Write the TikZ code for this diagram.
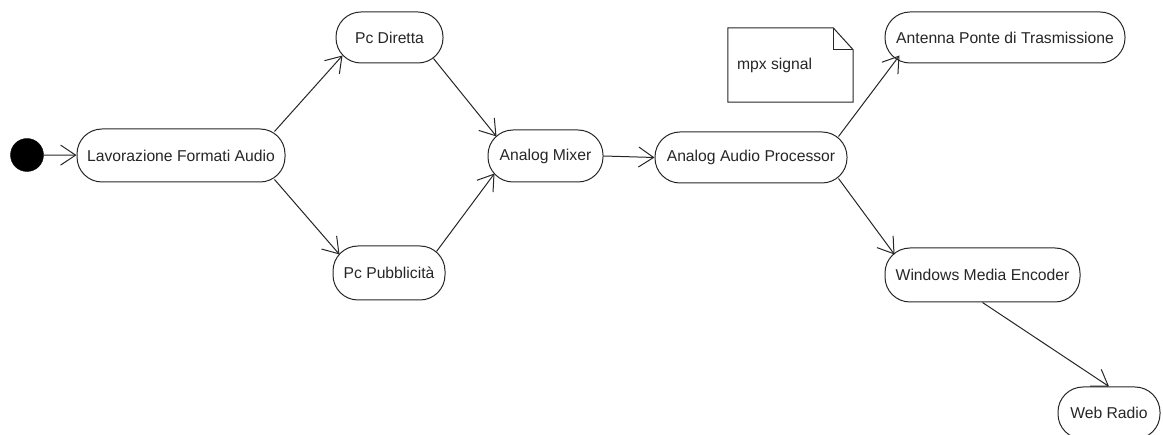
\documentclass[tikz,border=0pt]{standalone}
\usepackage{fontspec}
\setmainfont{Liberation Sans}
\usetikzlibrary{arrows.meta}

\tikzset{
  state/.style={draw=black!85, line width=1pt, rectangle, rounded corners=25pt,
    inner sep=0pt, font=\fontsize{15.7}{18}\selectfont, text=black!85},
  flow/.style={draw=black!85, line width=1pt,
    -{Straight Barb[length=15pt,width=20pt,line width=1pt]}},
  initial/.style={circle, fill=black, draw=black, inner sep=0pt, minimum size=33pt},
}

\begin{document}
\begin{tikzpicture}[x=1pt, y=-1pt]
  \useasboundingbox (0,0) rectangle (1163,435);

  % initial state
  \node[initial] (start) at (27,155) {};

  % activities
  \node[state, minimum width=208pt, minimum height=53pt] (lav) at (181,155.5) {Lavorazione Formati Audio};
  \node[state, minimum width=107pt, minimum height=51pt] (dir) at (389.5,37.5) {Pc Diretta};
  \node[state, minimum width=112pt, minimum height=54pt] (pub) at (389,273) {Pc Pubblicità};
  \node[state, minimum width=115pt, minimum height=52pt] (mix) at (545.5,156) {Analog Mixer};
  \node[state, minimum width=192pt, minimum height=51pt] (proc) at (751,157.5) {Analog Audio Processor};
  \node[state, minimum width=240pt, minimum height=51pt] (ant) at (1005,37.5) {Antenna Ponte di Trasmissione};
  \node[state, minimum width=195pt, minimum height=54pt] (wme) at (982.5,275) {Windows Media Encoder};
  \node[state, minimum width=102pt, minimum height=52pt] (web) at (1109,413) {Web Radio};

  % note with folded corner
  \node[rectangle, minimum width=125pt, minimum height=74pt, inner sep=0pt] (note) at (790.5,65) {};
  \node[anchor=west, font=\fontsize{15.7}{18}\selectfont, text=black!85, inner sep=0pt]
    (notetext) at ([xshift=9pt]note.west) {mpx signal};
  \draw[draw=black!85, line width=1pt]
    (note.north west) -- ([xshift=-20pt]note.north east) -- ([yshift=-22pt]note.north east)
    -- (note.south east) -- (note.south west) -- cycle;
  \draw[draw=black!85, line width=1pt]
    ([xshift=-20pt]note.north east) -- ([xshift=-20pt,yshift=-22pt]note.north east)
    -- ([yshift=-22pt]note.north east);

  % transitions
  \draw[flow] (start) -- (lav);
  \draw[flow] ([xshift=-11pt,yshift=-3pt]lav.north east) -- ([xshift=7pt,yshift=8pt]dir.south west);
  \draw[flow] ([xshift=-11pt,yshift=3pt]lav.south east) -- ([xshift=7pt,yshift=-9pt]pub.north west);
  \draw[flow] ([xshift=-10pt,yshift=5pt]dir.south east) -- ([xshift=9pt,yshift=-7pt]mix.north west);
  \draw[flow] ([xshift=-9pt,yshift=-6pt]pub.north east) -- ([xshift=7pt,yshift=9pt]mix.south west);
  \draw[flow] (mix.east) -- (proc.west);
  \draw[flow] ([xshift=-9pt,yshift=-5pt]proc.north east) -- ([xshift=15pt,yshift=8pt]ant.south west);
  \draw[flow] ([xshift=-9pt,yshift=5pt]proc.south east) -- ([xshift=10pt,yshift=-7pt]wme.north west);
  \draw[flow] (wme.south) -- (web.north);
\end{tikzpicture}
\end{document}
